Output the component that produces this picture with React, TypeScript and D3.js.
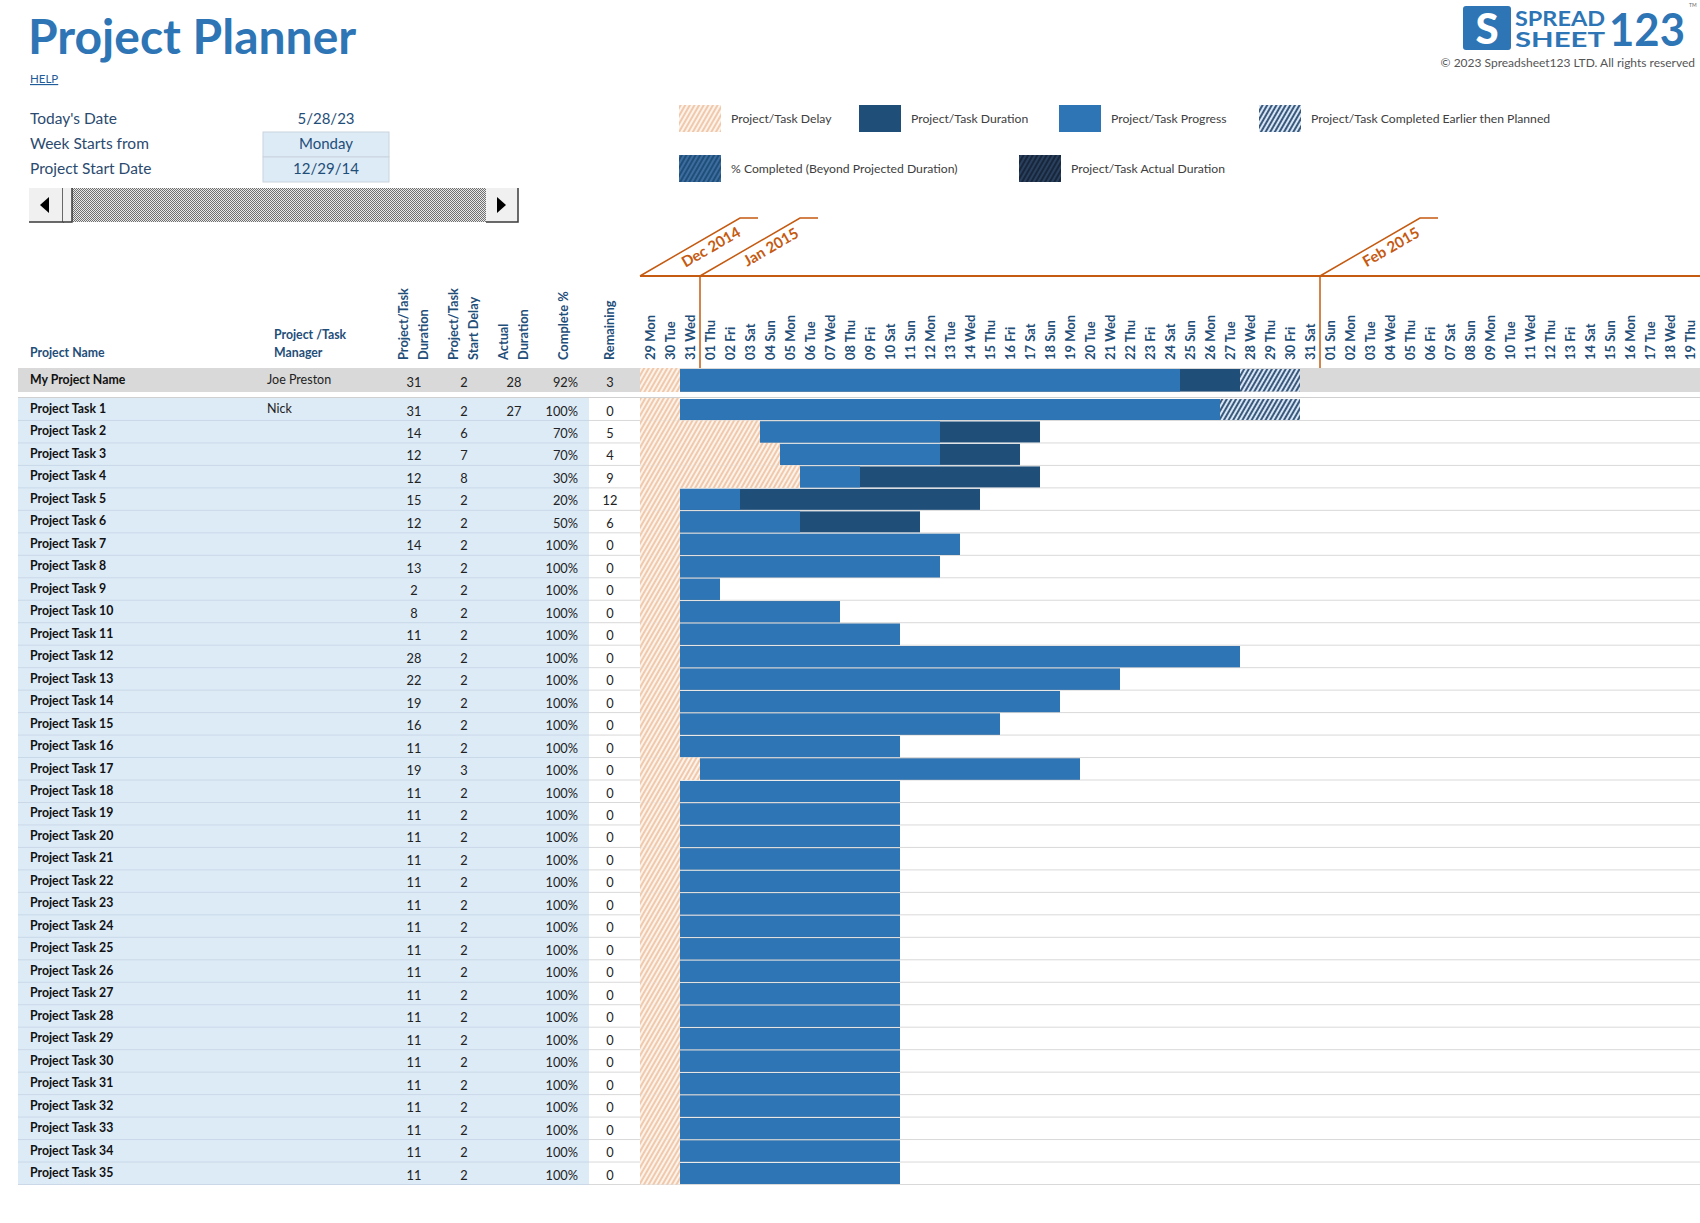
import React, { useEffect, useRef } from 'react';
import * as d3 from 'd3';

const projectName = 'My Project Name';
const projectManager = 'Joe Preston';
const projectDuration = 31;
const projectDelay = 2;
const projectActual = 28;
const projectComplete = 92;
const projectRemaining = 3;

const taskNames = [
  'Project Task 1', 'Project Task 2', 'Project Task 3', 'Project Task 4', 'Project Task 5',
  'Project Task 6', 'Project Task 7', 'Project Task 8', 'Project Task 9', 'Project Task 10',
  'Project Task 11', 'Project Task 12', 'Project Task 13', 'Project Task 14', 'Project Task 15',
  'Project Task 16', 'Project Task 17', 'Project Task 18', 'Project Task 19', 'Project Task 20',
  'Project Task 21', 'Project Task 22', 'Project Task 23', 'Project Task 24', 'Project Task 25',
  'Project Task 26', 'Project Task 27', 'Project Task 28', 'Project Task 29', 'Project Task 30',
  'Project Task 31', 'Project Task 32', 'Project Task 33', 'Project Task 34', 'Project Task 35',
];
const taskManagers = ['Nick'];
const taskDuration = [31, 14, 12, 12, 15, 12, 14, 13, 2, 8, 11, 28, 22, 19, 16, 11, 19,
  11, 11, 11, 11, 11, 11, 11, 11, 11, 11, 11, 11, 11, 11, 11, 11, 11, 11];
const taskDelay = [2, 6, 7, 8, 2, 2, 2, 2, 2, 2, 2, 2, 2, 2, 2, 2, 3,
  2, 2, 2, 2, 2, 2, 2, 2, 2, 2, 2, 2, 2, 2, 2, 2, 2, 2];
const taskActual: (number | null)[] = [27];
const taskComplete = [100, 70, 70, 30, 20, 50, 100, 100, 100, 100, 100, 100, 100, 100, 100, 100, 100,
  100, 100, 100, 100, 100, 100, 100, 100, 100, 100, 100, 100, 100, 100, 100, 100, 100, 100];
const taskRemaining = [0, 5, 4, 9, 12, 6, 0, 0, 0, 0, 0, 0, 0, 0, 0, 0, 0,
  0, 0, 0, 0, 0, 0, 0, 0, 0, 0, 0, 0, 0, 0, 0, 0, 0, 0];

const infoLabels = ["Today's Date", 'Week Starts from', 'Project Start Date'];
const infoValues = ['5/28/23', 'Monday', '12/29/14'];

const legendRow1 = ['Project/Task Delay', 'Project/Task Duration', 'Project/Task Progress', 'Project/Task Completed Earlier then Planned'];
const legendRow2 = ['% Completed (Beyond Projected Duration)', 'Project/Task Actual Duration'];

const startDate = new Date(2014, 11, 29);
const daysShown = 53;

const FONT = 'Lato, "Open Sans", sans-serif';
const BLUE = '#2E75B6';
const DARK = '#1F4E79';
const ORANGE = '#C55A11';

const renderChart = (svgEl: SVGSVGElement) => {
  const svg = d3.select(svgEl);
  svg.selectAll('*').remove();
  svg.attr('font-family', FONT);

  const defs = svg.append('defs');
  const hatch = (id: string, bg: string, fg: string, sw: number) => {
    const p = defs.append('pattern').attr('id', id)
      .attr('patternUnits', 'userSpaceOnUse')
      .attr('width', 4).attr('height', 4)
      .attr('patternTransform', 'rotate(30)');
    p.append('rect').attr('width', 4).attr('height', 4).attr('fill', bg);
    p.append('line').attr('x1', 2).attr('x2', 2).attr('y1', 0).attr('y2', 4)
      .attr('stroke', fg).attr('stroke-width', sw);
  };
  hatch('delay', '#fdf3ea', '#e39f70', 1);
  hatch('early', '#d6e6f5', '#1f3f66', 1.7);
  hatch('beyond', '#1f4e79', '#5a8cc4', 1);
  hatch('actual', '#17263a', '#3a5a82', 1);
  const dots = defs.append('pattern').attr('id', 'dots')
    .attr('patternUnits', 'userSpaceOnUse').attr('width', 2).attr('height', 2);
  dots.append('rect').attr('width', 2).attr('height', 2).attr('fill', '#e8e8e8');
  dots.append('rect').attr('width', 1).attr('height', 1).attr('fill', '#6f6f6f');
  dots.append('rect').attr('x', 1).attr('y', 1).attr('width', 1).attr('height', 1).attr('fill', '#6f6f6f');

  // scales
  const endDate = d3.timeDay.offset(startDate, daysShown);
  const x = d3.scaleTime().domain([startDate, endDate]).range([640, 1700]);
  const dayX = (n: number) => x(d3.timeDay.offset(startDate, n));
  const dayW = dayX(1) - dayX(0);
  const y = d3.scaleBand().domain(taskNames).range([398, 1184.5]).paddingInner(0);
  const rowH = y.bandwidth();
  const projTop = 368, projH = 24;

  // ---- title block ----
  svg.append('text').attr('x', 28).attr('y', 54).text('Project Planner')
    .attr('font-size', 48).attr('font-weight', 700).attr('fill', BLUE);
  svg.append('text').attr('x', 30).attr('y', 83).text('HELP')
    .attr('font-size', 11.5).attr('fill', '#1F5C99').attr('text-decoration', 'underline');

  // logo
  const logo = svg.append('g');
  logo.append('rect').attr('x', 1463).attr('y', 6).attr('width', 48).attr('height', 44).attr('rx', 3).attr('fill', BLUE);
  logo.append('text').attr('x', 1487).attr('y', 44).attr('text-anchor', 'middle').text('S')
    .attr('font-size', 42).attr('font-weight', 900).attr('fill', '#fff');
  logo.append('text').attr('x', 1515).attr('y', 26).text('SPREAD')
    .attr('font-size', 20).attr('font-weight', 700).attr('fill', BLUE).attr('textLength', 90).attr('lengthAdjust', 'spacingAndGlyphs');
  logo.append('text').attr('x', 1515).attr('y', 47).text('SHEET')
    .attr('font-size', 20).attr('font-weight', 700).attr('fill', BLUE).attr('textLength', 90).attr('lengthAdjust', 'spacingAndGlyphs');
  logo.append('text').attr('x', 1609).attr('y', 46).text('123')
    .attr('font-size', 46).attr('font-weight', 700).attr('fill', BLUE).attr('textLength', 76).attr('lengthAdjust', 'spacingAndGlyphs');
  logo.append('text').attr('x', 1689).attr('y', 7).text('TM')
    .attr('font-size', 5).attr('fill', '#666');
  svg.append('text').attr('x', 1695).attr('y', 67).attr('text-anchor', 'end')
    .text('© 2023 Spreadsheet123 LTD. All rights reserved')
    .attr('font-size', 12).attr('fill', '#555');

  // info rows
  infoLabels.forEach((lab, i) => {
    const cy = 119 + i * 25;
    if (i > 0) {
      svg.append('rect').attr('x', 263).attr('y', cy - 12).attr('width', 126).attr('height', 25)
        .attr('fill', '#DDEBF7').attr('stroke', '#c9d3de').attr('stroke-width', 1);
    }
    svg.append('text').attr('x', 30).attr('y', cy + 5).text(lab)
      .attr('font-size', 15.5).attr('fill', '#2B4A6F');
    svg.append('text').attr('x', 326).attr('y', cy + 5).attr('text-anchor', 'middle').text(infoValues[i])
      .attr('font-size', 15).attr('fill', '#1F4E79');
  });

  // scroll bar
  const sb = svg.append('g');
  sb.append('rect').attr('x', 29).attr('y', 188).attr('width', 489).attr('height', 34).attr('fill', 'url(#dots)');
  const btn = (bx: number, bw: number) => {
    sb.append('rect').attr('x', bx).attr('y', 188).attr('width', bw).attr('height', 34).attr('fill', '#f0f0f0');
    sb.append('path').attr('d', `M${bx},222 H${bx + bw} V188`).attr('fill', 'none').attr('stroke', '#3a3a3a').attr('stroke-width', 1.5);
  };
  btn(29, 34);
  btn(63, 9);
  btn(486, 32);
  sb.append('path').attr('d', 'M40,205 L49,197 L49,213 Z').attr('fill', '#000');
  sb.append('path').attr('d', 'M506,205 L497,197 L497,213 Z').attr('fill', '#000');

  // legend
  const swatch = (sx: number, sy: number, fill: string) =>
    svg.append('rect').attr('x', sx).attr('y', sy).attr('width', 42).attr('height', 27).attr('fill', fill);
  const row1X = [679, 859, 1059, 1259];
  const row1Fill = ['url(#delay)', DARK, BLUE, 'url(#early)'];
  legendRow1.forEach((lab, i) => {
    swatch(row1X[i], 105, row1Fill[i]);
    svg.append('text').attr('x', row1X[i] + 52).attr('y', 123).text(lab)
      .attr('font-size', 12.2).attr('fill', '#404040');
  });
  const row2X = [679, 1019];
  const row2Fill = ['url(#beyond)', 'url(#actual)'];
  legendRow2.forEach((lab, i) => {
    swatch(row2X[i], 155, row2Fill[i]);
    svg.append('text').attr('x', row2X[i] + 52).attr('y', 173).text(lab)
      .attr('font-size', 12.2).attr('fill', '#404040');
  });

  // ---- column headers ----
  const hdr = (lines: string[], cx: number) => {
    lines.forEach((ln, k) => {
      const lx = cx + (k - (lines.length - 1) / 2) * 20 + 4.5;
      svg.append('text').attr('transform', `translate(${lx},360) rotate(-90)`).text(ln)
        .attr('font-size', 12.8).attr('font-weight', 700).attr('fill', DARK);
    });
  };
  svg.append('text').attr('x', 30).attr('y', 357).text('Project Name')
    .attr('font-size', 12.3).attr('font-weight', 700).attr('fill', DARK);
  svg.append('text').attr('x', 274).attr('y', 339).text('Project /Task')
    .attr('font-size', 12.3).attr('font-weight', 700).attr('fill', DARK);
  svg.append('text').attr('x', 274).attr('y', 357).text('Manager')
    .attr('font-size', 12.3).attr('font-weight', 700).attr('fill', DARK);
  hdr(['Project/Task', 'Duration'], 413);
  hdr(['Project/Task', 'Start Delay'], 463);
  hdr(['Actual', 'Duration'], 513);
  hdr(['Complete %'], 563);
  hdr(['Remaining'], 609);

  // day labels
  const days = d3.timeDay.range(startDate, endDate);
  const fmt = d3.timeFormat('%d %a');
  svg.append('g').selectAll('text').data(days).enter().append('text')
    .attr('transform', d => `translate(${x(d) + dayW / 2 + 4.5},360) rotate(-90)`)
    .text(d => fmt(d))
    .attr('font-size', 13).attr('font-weight', 700).attr('fill', DARK);

  // month header
  const months = [startDate, ...d3.timeMonth.range(d3.timeDay.offset(startDate, 1), endDate)];
  const mfmt = d3.timeFormat('%b %Y');
  svg.append('line').attr('x1', 640).attr('x2', 1700).attr('y1', 276).attr('y2', 276)
    .attr('stroke', ORANGE).attr('stroke-width', 2);
  months.forEach((m, i) => {
    const sx = x(m);
    svg.append('path').attr('d', `M${sx},276 L${sx + 100},218 H${sx + 118}`)
      .attr('fill', 'none').attr('stroke', ORANGE).attr('stroke-width', 1.5);
    if (i > 0) {
      svg.append('line').attr('x1', sx).attr('x2', sx).attr('y1', 276).attr('y2', projTop)
        .attr('stroke', ORANGE).attr('stroke-width', 1.5);
    }
    svg.append('text').attr('transform', `translate(${sx + 71},${247}) rotate(-30)`)
      .attr('text-anchor', 'middle').attr('dy', '0.35em').text(mfmt(m))
      .attr('font-size', 15).attr('font-weight', 700).attr('fill', ORANGE);
  });

  // ---- table backgrounds ----
  svg.append('rect').attr('x', 18).attr('y', projTop).attr('width', 1700 - 18).attr('height', projH).attr('fill', '#D9D9D9');
  svg.append('rect').attr('x', 18).attr('y', 398).attr('width', 589 - 18).attr('height', rowH * taskNames.length).attr('fill', '#DDEBF7');
  svg.append('line').attr('x1', 18).attr('x2', 1700).attr('y1', 397.5).attr('y2', 397.5).attr('stroke', '#d0d0d0');
  taskNames.forEach(t => {
    const yb = (y(t) as number) + rowH;
    svg.append('line').attr('x1', 18).attr('x2', 589).attr('y1', yb).attr('y2', yb).attr('stroke', '#cad8e8');
    svg.append('line').attr('x1', 589).attr('x2', 1700).attr('y1', yb).attr('y2', yb).attr('stroke', '#d9d9d9');
  });

  // ---- gantt bars ----
  const drawBar = (top: number, h: number, delay: number, dur: number, actual: number | null, complete: number) => {
    const g = svg.append('g');
    g.append('rect').attr('x', dayX(0)).attr('y', top).attr('width', dayX(delay) - dayX(0)).attr('height', h)
      .attr('fill', 'url(#delay)');
    const span = actual ?? dur;
    const prog = Math.floor(complete / 100 * span);
    const bt = top + 1, bh = h - 1.5;
    g.append('rect').attr('x', dayX(delay)).attr('y', bt).attr('width', dayX(delay + span) - dayX(delay)).attr('height', bh).attr('fill', DARK);
    g.append('rect').attr('x', dayX(delay)).attr('y', bt).attr('width', dayX(delay + prog) - dayX(delay)).attr('height', bh).attr('fill', BLUE);
    if (actual != null && actual < dur) {
      g.append('rect').attr('x', dayX(delay + actual)).attr('y', bt).attr('width', dayX(delay + dur) - dayX(delay + actual)).attr('height', bh)
        .attr('fill', 'url(#early)');
    }
  };
  drawBar(projTop, projH, projectDelay, projectDuration, projectActual, projectComplete);
  taskNames.forEach((t, i) => {
    drawBar(y(t) as number, rowH, taskDelay[i], taskDuration[i], taskActual[i] ?? null, taskComplete[i]);
  });

  // ---- table text ----
  const rowText = (top: number, base: number, name: string, mgr: string, vals: (string | number)[]) => {
    svg.append('text').attr('x', 30).attr('y', top + base).text(name)
      .attr('font-size', 12.3).attr('font-weight', 700).attr('fill', '#111');
    svg.append('text').attr('x', 267).attr('y', top + base).text(mgr)
      .attr('font-size', 12.5).attr('fill', '#222');
    const cols = [414, 464, 514, 578, 610];
    vals.forEach((v, k) => {
      svg.append('text').attr('x', cols[k]).attr('y', top + base + 2.5)
        .attr('text-anchor', k === 3 ? 'end' : 'middle').text(String(v))
        .attr('font-size', 12.8).attr('fill', '#222');
    });
  };
  rowText(projTop, 16, projectName, projectManager,
    [projectDuration, projectDelay, projectActual, projectComplete + '%', projectRemaining]);
  taskNames.forEach((t, i) => {
    rowText(y(t) as number, 15, t, taskManagers[i] ?? '',
      [taskDuration[i], taskDelay[i], taskActual[i] ?? '', taskComplete[i] + '%', taskRemaining[i]]);
  });
};

export default function App() {
  const ref = useRef<SVGSVGElement>(null);
  useEffect(() => {
    document.body.style.margin = '0';
    document.body.style.overflow = 'hidden';
    if (ref.current) renderChart(ref.current);
  }, []);
  return <svg ref={ref} width={1700} height={1223} style={{ display: 'block', background: '#fff' }} />;
}
